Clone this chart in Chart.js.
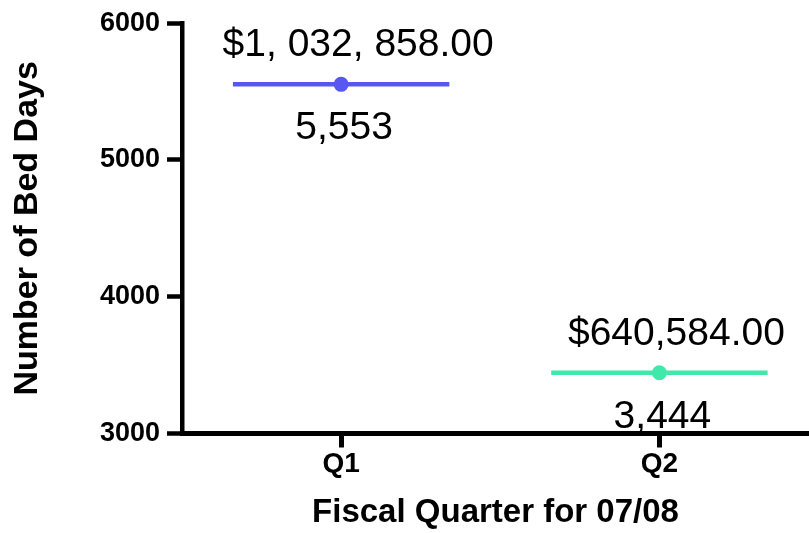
<!DOCTYPE html>
<html lang="en">
<head>
    <meta charset="UTF-8">
    <title>Bed Days by Fiscal Quarter</title>
    <script src="https://cdn.jsdelivr.net/npm/chart.js"></script>
    <style>
        body {
          margin: 0;
          background: #fff;
        }
        #wrap {
          width: 809px;
          height: 533px;
        }
    </style>
</head>
<body>
    <div id="wrap">
        <canvas id="myChart" width="809" height="533"></canvas>
    </div>

    <script>
        // Data
        const quarters = ['Q1', 'Q2'];
        const bedDays = [5553, 3444];
        const costLabels = ['$1, 032, 858.00', '$640,584.00'];
        const yTicks = [3000, 4000, 5000, 6000];

        const colors = ['rgb(88, 88, 240)', 'rgb(64, 232, 170)'];
        const halfLine = 0.34; // half length of the mean line, in category units

        const FONT = 'Arial, "Liberation Sans", Helvetica, sans-serif';

        // one dataset per quarter: a short horizontal line with the dot in the middle
        const datasets = quarters.map((q, i) => ({
            label: q,
            data: [
                { x: i + 1 - halfLine, y: bedDays[i] },
                { x: i + 1, y: bedDays[i] },
                { x: i + 1 + halfLine, y: bedDays[i] }
            ],
            showLine: true,
            borderColor: colors[i],
            backgroundColor: colors[i],
            borderWidth: 4.5,
            pointRadius: [0, 7.5, 0],
            pointHoverRadius: [0, 7.5, 0],
            pointBorderWidth: 0
        }));

        // value labels above and below each line
        const valueLabels = {
            id: 'valueLabels',
            afterDatasetsDraw(chart) {
                const ctx = chart.ctx;
                const xs = chart.scales.x;
                const ys = chart.scales.y;
                ctx.save();
                ctx.fillStyle = '#000';
                ctx.font = '39px ' + FONT;
                ctx.textAlign = 'center';
                ctx.textBaseline = 'alphabetic';
                quarters.forEach((q, i) => {
                    const px = xs.getPixelForValue(i + 1);
                    const py = ys.getPixelForValue(bedDays[i]);
                    ctx.fillText(costLabels[i], px + 17, py - 28);
                    ctx.fillText(bedDays[i].toLocaleString('en-US'), px + 3, py + 55);
                });
                ctx.restore();
            }
        };

        const ctx = document.getElementById('myChart').getContext('2d');
        const myChart = new Chart(ctx, {
            type: 'scatter',
            data: { datasets: datasets },
            plugins: [valueLabels],
            options: {
                responsive: false,
                animation: false,
                devicePixelRatio: 1,
                layout: {
                    padding: { top: 22.5, right: 0, bottom: 0, left: 0 }
                },
                plugins: {
                    legend: { display: false },
                    tooltip: { enabled: false }
                },
                scales: {
                    x: {
                        type: 'linear',
                        min: 0.5,
                        max: 2.47,
                        afterBuildTicks: (scale) => {
                            scale.ticks = quarters.map((q, i) => ({ value: i + 1 }));
                        },
                        afterFit: (scale) => { scale.height = 99.5; },
                        border: { display: true, color: '#000', width: 5 },
                        grid: {
                            drawOnChartArea: false,
                            drawTicks: true,
                            tickLength: 14,
                            tickWidth: 5,
                            tickColor: '#000'
                        },
                        ticks: {
                            color: '#000',
                            padding: 0,
                            maxRotation: 0,
                            font: { family: FONT, size: 28, weight: 'bold' },
                            callback: (v) => quarters[v - 1]
                        },
                        title: {
                            display: true,
                            text: 'Fiscal Quarter for 07/08',
                            color: '#000',
                            padding: { top: 0, bottom: 0 },
                            font: { family: FONT, size: 33, weight: 'bold' }
                        }
                    },
                    y: {
                        min: 3000,
                        max: 6000,
                        afterBuildTicks: (scale) => {
                            scale.ticks = yTicks.map(v => ({ value: v }));
                        },
                        afterFit: (scale) => { scale.width = 182; },
                        border: { display: true, color: '#000', width: 4.5 },
                        grid: {
                            drawOnChartArea: false,
                            drawTicks: true,
                            tickLength: 15,
                            tickWidth: 4.5,
                            tickColor: '#000'
                        },
                        ticks: {
                            color: '#000',
                            padding: 7,
                            font: { family: FONT, size: 27, weight: 'bold' },
                            callback: (v) => String(v)
                        },
                        title: {
                            display: true,
                            text: 'Number of Bed Days',
                            color: '#000',
                            padding: { top: 7, bottom: 0 },
                            font: { family: FONT, size: 34, weight: 'bold' }
                        }
                    }
                }
            }
        });
    </script>
</body>
</html>
